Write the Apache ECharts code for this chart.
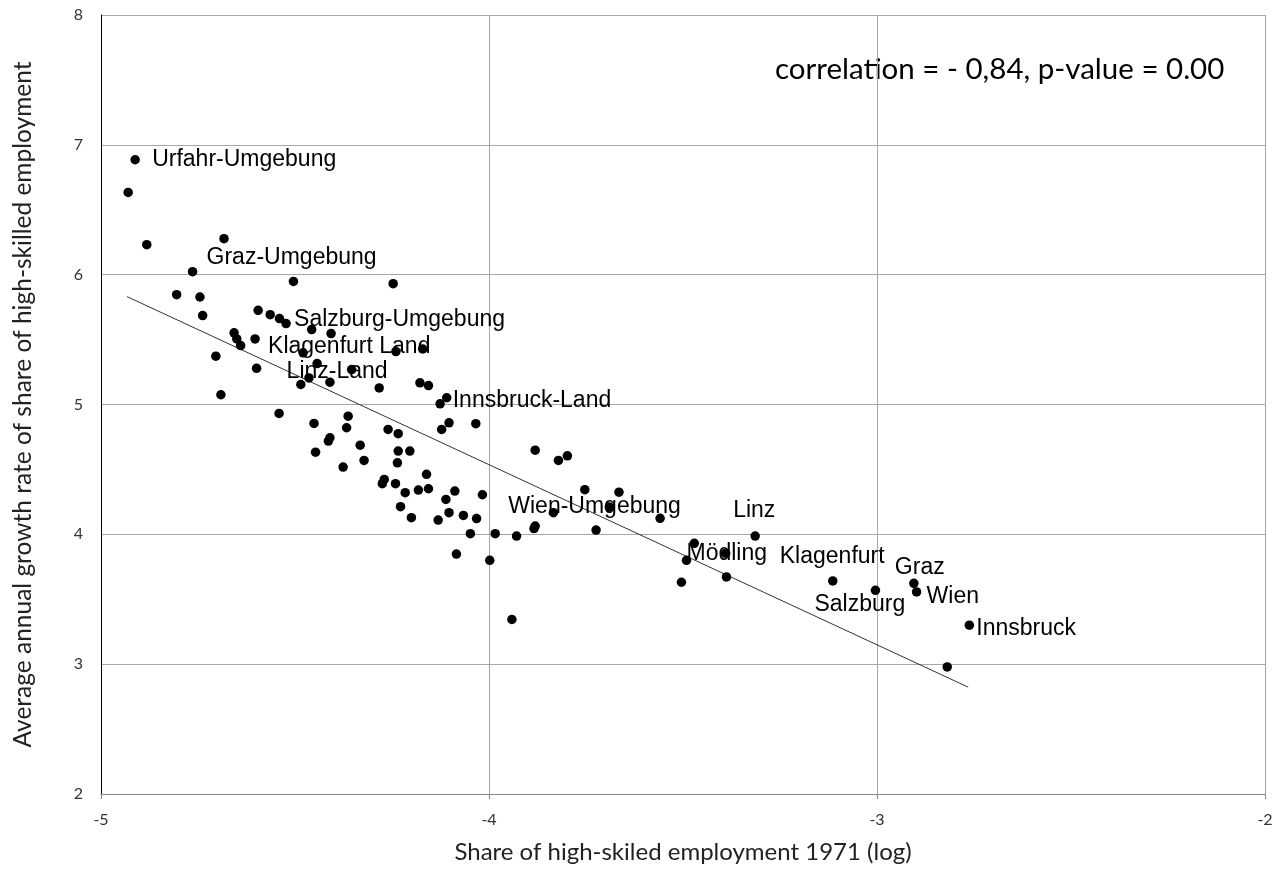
<!DOCTYPE html>
<html>
<head>
<meta charset="utf-8">
<title>High-skilled employment growth vs. 1971 share</title>
<script src="https://cdn.jsdelivr.net/npm/echarts@6/dist/echarts.min.js"></script>
<style>
  html, body { margin: 0; padding: 0; background: #ffffff; }
  #chart { width: 1284px; height: 869px; }
</style>
</head>
<body>
<div id="chart"></div>
<script>
// Named regions: log share of high-skilled employment 1971 and average annual growth rate
const labeledNames = ['Urfahr-Umgebung', 'Graz-Umgebung', 'Salzburg-Umgebung', 'Klagenfurt Land', 'Linz-Land',
  'Innsbruck-Land', 'Wien-Umgebung', 'Linz', 'Mödling', 'Klagenfurt', 'Salzburg', 'Graz', 'Wien', 'Innsbruck'];
const labeledShare = [-4.912, -4.764, -4.523, -4.603, -4.599, -4.109, -3.690, -3.314, -3.491, -3.114, -3.004, -2.905, -2.898, -2.762];
const labeledGrowth = [6.885, 6.023, 5.623, 5.505, 5.279, 5.052, 4.210, 3.987, 3.800, 3.641, 3.569, 3.623, 3.556, 3.300];

// Remaining districts (unlabeled)
const otherShare = [
  -4.930, -4.882, -4.683, -4.504, -4.247, -4.805, -4.745, -4.738, -4.595, -4.564,
  -4.540, -4.457, -4.407, -4.657, -4.650, -4.640, -4.704, -4.691, -4.479, -4.443,
  -4.354, -4.485, -4.464, -4.410, -4.283, -4.240, -4.171, -4.178, -4.156, -4.126,
  -4.541, -4.363, -4.451, -4.367, -4.103, -4.122, -4.034, -4.260, -4.234, -4.410,
  -4.414, -4.332, -4.447, -4.234, -4.204, -4.236, -4.322, -4.376, -4.161, -4.270,
  -4.275, -4.241, -4.216, -4.182, -4.156, -4.088, -4.111, -4.017, -4.228, -4.200,
  -4.103, -4.066, -4.131, -4.032, -4.048, -3.984, -4.084, -3.998, -3.881, -3.821,
  -3.798, -3.929, -3.881, -3.884, -3.834, -3.753, -3.665, -3.724, -3.941, -3.559,
  -3.471, -3.390, -3.388, -3.504, -2.819
];
const otherGrowth = [
  6.633, 6.231, 6.277, 5.948, 5.931, 5.846, 5.828, 5.685, 5.725, 5.692,
  5.662, 5.577, 5.546, 5.552, 5.505, 5.454, 5.372, 5.075, 5.398, 5.315,
  5.269, 5.154, 5.205, 5.172, 5.128, 5.408, 5.428, 5.167, 5.146, 5.005,
  4.931, 4.910, 4.854, 4.821, 4.859, 4.808, 4.852, 4.808, 4.775, 4.744,
  4.718, 4.687, 4.633, 4.641, 4.641, 4.551, 4.569, 4.518, 4.462, 4.423,
  4.390, 4.390, 4.321, 4.341, 4.351, 4.333, 4.269, 4.305, 4.213, 4.128,
  4.167, 4.146, 4.110, 4.121, 4.005, 4.005, 3.848, 3.800, 4.648, 4.569,
  4.605, 3.987, 4.064, 4.044, 4.167, 4.344, 4.325, 4.033, 3.344, 4.123,
  3.931, 3.854, 3.672, 3.631, 2.979
];

// Linear trend line endpoints [share, growth]
const trendShare = [-4.933, -2.765];
const trendGrowth = [5.831, 2.823];

// Axis ranges
const xTicks = { min: -5, max: -2, step: 1 };
const yTicks = { min: 2, max: 8, step: 1 };

const annotation = 'correlation = - 0,84, p-value = 0.00';

// Label placement (text start / vertical centre relative to the dot)
const labelOffsets = {
  'Urfahr-Umgebung': [17, 0], 'Graz-Umgebung': [14, -14], 'Salzburg-Umgebung': [8, -4],
  'Klagenfurt Land': [13, 8], 'Linz-Land': [30, 3], 'Innsbruck-Land': [6, 3],
  'Wien-Umgebung': [-101, 0], 'Linz': [-22, -25], 'Mödling': [0, -7],
  'Klagenfurt': [-53, -24], 'Salzburg': [-61, 14], 'Graz': [-19, -16],
  'Wien': [10, 5], 'Innsbruck': [7, 3]
};

const labeledData = labeledNames.map((n, i) => ({
  name: n,
  value: [labeledShare[i], labeledGrowth[i]],
  label: { offset: labelOffsets[n] }
}));
const otherData = otherShare.map((x, i) => [x, otherGrowth[i]]);
const trendData = trendShare.map((x, i) => [x, trendGrowth[i]]);

const chart = echarts.init(document.getElementById('chart'), null, { renderer: 'canvas' });

const dotStyle = { color: '#000', opacity: 1 };

chart.setOption({
  animation: false,
  backgroundColor: '#ffffff',
  grid: { left: 101, right: 19, top: 15, bottom: 74, containLabel: false },
  xAxis: {
    type: 'value',
    min: xTicks.min, max: xTicks.max, interval: xTicks.step,
    name: 'Share of high-skiled employment 1971 (log)',
    nameLocation: 'middle', nameGap: 46,
    nameTextStyle: { fontFamily: 'Lato', fontSize: 24, color: '#222' },
    axisLine: { show: true, onZero: false, lineStyle: { color: '#8a8a8a', width: 1 } },
    axisTick: { show: true, length: 5, lineStyle: { color: '#8a8a8a' } },
    axisLabel: { margin: 18, fontFamily: 'Lato', fontSize: 16, color: '#333' },
    splitLine: { show: true, lineStyle: { color: '#a6a6a6', width: 1 } }
  },
  yAxis: {
    type: 'value',
    min: yTicks.min, max: yTicks.max, interval: yTicks.step,
    name: 'Average annual growth rate of share of high-skilled employment',
    nameLocation: 'middle', nameGap: 65, nameRotate: 90,
    nameTextStyle: { fontFamily: 'Lato', fontSize: 24.5, color: '#222' },
    axisLine: { show: true, onZero: false, lineStyle: { color: '#000', width: 1 } },
    axisTick: { show: false },
    axisLabel: { margin: 18, fontFamily: 'Lato', fontSize: 16, color: '#333' },
    splitLine: { show: true, lineStyle: { color: '#a6a6a6', width: 1 } }
  },
  graphic: [{
    type: 'text', left: 775, top: 54,
    style: { text: annotation, fontFamily: 'Lato', fontSize: 29.5, fill: '#000' }
  }],
  series: [
    {
      type: 'line',
      data: trendData,
      symbol: 'none',
      lineStyle: { color: '#333', width: 1 },
      z: 1
    },
    {
      type: 'scatter',
      data: otherData,
      symbol: 'circle', symbolSize: 9.5,
      itemStyle: dotStyle,
      z: 3
    },
    {
      type: 'scatter',
      data: labeledData,
      symbol: 'circle', symbolSize: 9.5,
      itemStyle: dotStyle,
      label: {
        show: true, position: 'inside', align: 'left', verticalAlign: 'middle',
        formatter: '{b}', fontFamily: 'Liberation Sans', fontSize: 23, color: '#000'
      },
      z: 4
    }
  ]
});
</script>
</body>
</html>
